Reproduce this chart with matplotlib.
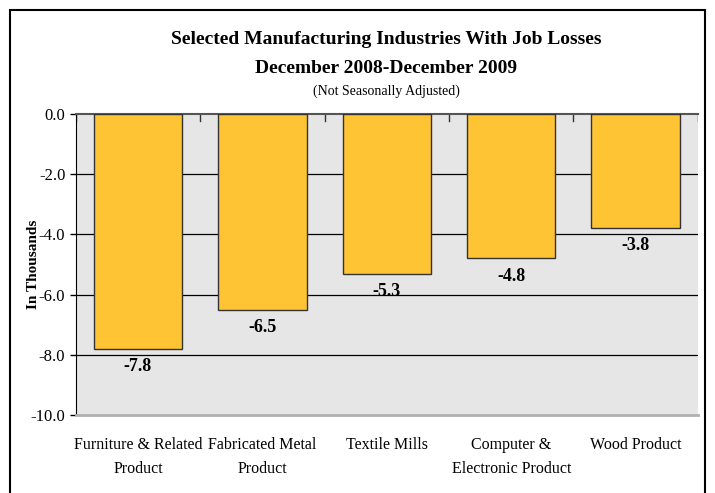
import numpy as np
import matplotlib
matplotlib.use("Agg")
import matplotlib.pyplot as plt
from matplotlib.patches import Rectangle

categories = ["Furniture & Related\nProduct", "Fabricated Metal\nProduct", "Textile Mills",
              "Computer &\nElectronic Product", "Wood Product"]
losses = [-7.8, -6.5, -5.3, -4.8, -3.8]
yticks = [0.0, -2.0, -4.0, -6.0, -8.0, -10.0]

plt.rcParams['font.family'] = ['Liberation Serif', 'DejaVu Serif']

fig = plt.figure(figsize=(7.15, 4.93), dpi=100)
ax = fig.add_axes([0.106, 0.158, 0.870, 0.611])
ax.set_facecolor("#e6e6e6")

x = np.arange(len(categories))
ax.bar(x, losses, width=0.71, color="#ffc433", edgecolor="#333333", linewidth=1.0, zorder=3)

for xi, v in zip(x, losses):
    ax.text(xi, v - 0.3, f"{v:.1f}", ha="center", va="top", fontsize=13, fontweight="bold", zorder=4)

ax.set_ylim(-10, 0)
ax.set_xlim(-0.5, len(categories) - 0.5)
ax.set_yticks(yticks)
ax.set_yticklabels([f"{t:.1f}" for t in yticks], fontsize=12)
for t in yticks[1:-1]:
    ax.axhline(t, color="black", linewidth=0.9, zorder=2)

ax.set_xticks(x)
ax.set_xticklabels(categories, fontsize=11.5, linespacing=1.6)
ax.tick_params(axis="x", length=0, pad=16)
ax.tick_params(axis="y", length=4, width=1, direction="out")
# category separator ticks at the top (zero line)
for b in np.arange(-0.5, len(categories), 1.0):
    ax.plot([b, b], [0, -0.25], color="#333333", linewidth=1, zorder=2)

ax.spines["top"].set_color("#555555")
ax.spines["top"].set_linewidth(1.5)
ax.spines["bottom"].set_color("#b0b0b0")
ax.spines["bottom"].set_linewidth(2)
ax.spines["right"].set_visible(False)
ax.spines["left"].set_color("black")

ax.set_ylabel("In Thousands", fontsize=11, fontweight="bold")
ax.yaxis.set_label_coords(-0.058, 0.5)

fig.text(0.54, 0.919, "Selected Manufacturing Industries With Job Losses", ha="center", va="center",
         fontsize=14, fontweight="bold")
fig.text(0.54, 0.862, "December 2008-December 2009", ha="center", va="center",
         fontsize=14, fontweight="bold")
fig.text(0.54, 0.815, "(Not Seasonally Adjusted)", ha="center", va="center", fontsize=10)

fig.patches.append(Rectangle((10 / 715, -0.01), 695 / 715, (493 - 10) / 493 + 0.01,
                             transform=fig.transFigure, fill=False, edgecolor="black", linewidth=1.5))

fig.savefig("out.png", dpi=100)
